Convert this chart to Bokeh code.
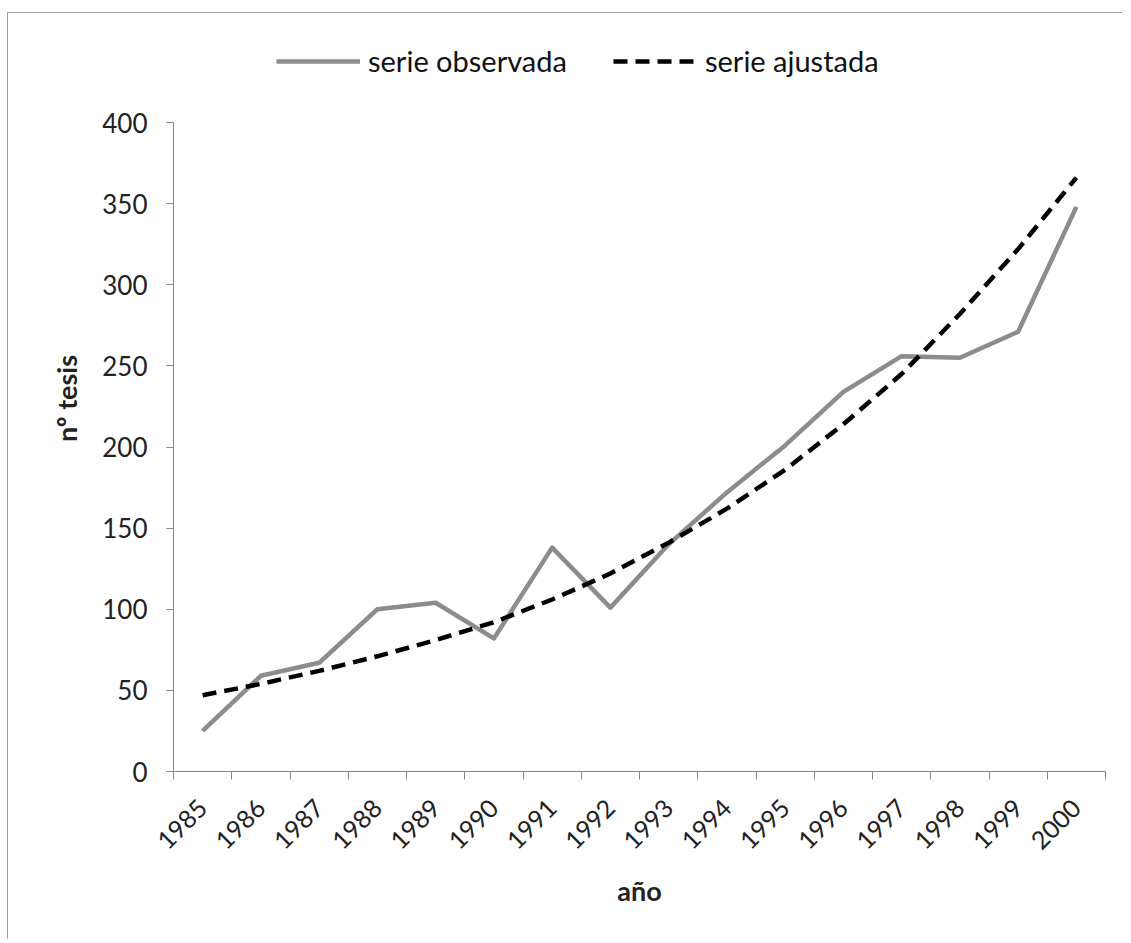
from math import pi
from bokeh.plotting import figure
from bokeh.models import (Range1d, FixedTicker, CustomJSTickFormatter, Legend, LegendItem)
from bokeh.embed import file_html
from bokeh.resources import INLINE

years = ["1985", "1986", "1987", "1988", "1989", "1990", "1991", "1992",
         "1993", "1994", "1995", "1996", "1997", "1998", "1999", "2000"]
observada = [25, 59, 67, 100, 104, 82, 138, 101, 140, 172, 201, 234, 256, 255, 271, 348]
ajustada = [47, 54, 62, 71, 81, 92, 106, 122, 141, 162, 186, 214, 245, 282, 322, 366]
y_ticks = [0, 50, 100, 150, 200, 250, 300, 350, 400]

xs = [i + 0.5 for i in range(len(years))]
bounds = list(range(len(years) + 1))

FONT = "Lato"
TICK_FONT = "Lato"

# the plotting area (0..400) is 649 px tall; the frame is extended upwards
# so that the legend sits inside it (axis line limited to 0..400)
AXIS_H = 649
EXTRA_TOP = 97
Y_TOP = y_ticks[-1] * (AXIS_H + EXTRA_TOP) / AXIS_H

p = figure(width=1115, height=927, output_backend="svg", toolbar_location=None,
           x_range=Range1d(0, len(years)), y_range=Range1d(0, Y_TOP),
           min_border_left=165, min_border_right=18, min_border_top=109 - EXTRA_TOP,
           min_border_bottom=169)
p.styles = {"border-left": "1px solid #a0a0a0", "border-top": "1px solid #a0a0a0",
            "margin-left": "7px", "margin-top": "12px"}
p.outline_line_color = None
p.xgrid.visible = False
p.ygrid.visible = False
p.background_fill_color = "white"
p.border_fill_color = "white"

r_obs = p.line(xs, observada, line_color="#8c8c8c", line_width=4.5, line_join="round")
r_fit = p.line(xs, ajustada, line_color="black", line_width=4.5, line_dash="14 8")

# X axis
xa = p.xaxis[0]
xa.ticker = FixedTicker(ticks=xs, minor_ticks=bounds)
xa.formatter = CustomJSTickFormatter(args=dict(years=years),
                                     code="return years[Math.floor(tick)];")
xa.major_tick_line_color = None
xa.major_tick_out = 8
xa.major_tick_in = 0
xa.minor_tick_line_color = "#868686"
xa.minor_tick_out = 8
xa.minor_tick_in = 0
xa.axis_line_color = "#868686"
xa.major_label_orientation = pi / 4
xa.major_label_text_font = TICK_FONT
xa.major_label_text_font_size = "25px"
xa.major_label_text_color = "#222222"
xa.major_label_standoff = 24
xa.axis_label = "año"
xa.axis_label_text_font = FONT
xa.axis_label_text_font_style = "bold"
xa.axis_label_text_font_size = "27px"
xa.axis_label_text_color = "#222222"
xa.axis_label_standoff = 14

# Y axis
ya = p.yaxis[0]
ya.ticker = FixedTicker(ticks=y_ticks)
ya.bounds = (y_ticks[0], y_ticks[-1])
ya.minor_tick_line_color = None
ya.major_tick_line_color = "#868686"
ya.major_tick_out = 7
ya.major_tick_in = 0
ya.axis_line_color = "#868686"
ya.major_label_text_font = TICK_FONT
ya.major_label_text_font_size = "26px"
ya.major_label_text_color = "#222222"
ya.major_label_standoff = 19
ya.axis_label = "nº tesis"
ya.axis_label_text_font = FONT
ya.axis_label_text_font_style = "bold"
ya.axis_label_text_font_size = "27px"
ya.axis_label_text_color = "#222222"
ya.axis_label_standoff = 16

legend = Legend(items=[LegendItem(label="serie observada", renderers=[r_obs]),
                       LegendItem(label="serie ajustada", renderers=[r_fit])],
                orientation="horizontal", location=(103, 693),
                glyph_width=84, glyph_height=20, label_standoff=8, spacing=46,
                padding=0, margin=0, border_line_color=None,
                background_fill_alpha=0,
                label_text_font=FONT, label_text_font_size="29px",
                label_text_color="#111111")
p.add_layout(legend, "center")

open("out.html", "w").write(file_html(p, INLINE))
